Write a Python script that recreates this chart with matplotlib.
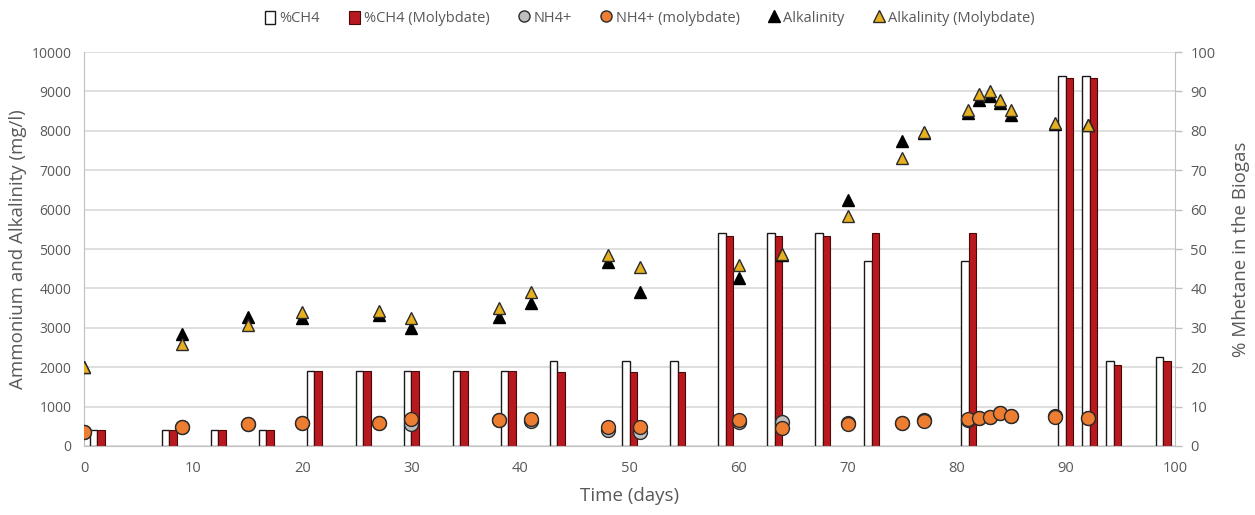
import numpy as np
import matplotlib.pyplot as plt
from matplotlib.lines import Line2D
from matplotlib.patches import Patch

plt.rcParams['font.family'] = ['Open Sans', 'DejaVu Sans']

# methane in the biogas (%), control vs molybdate reactor
ch4_days = [1.2, 7.8, 12.3, 16.7, 21.1, 25.6, 30.0, 34.5, 38.9, 43.4, 50.0,
            54.4, 58.8, 63.3, 67.7, 72.2, 81.1, 90.0, 92.2, 94.4, 98.9]
ch4_control = [4, 4, 4, 4, 19, 19, 19, 19, 19, 21.6, 21.6,
               21.6, 54, 54, 54, 47, 47, 94, 94, 21.6, 22.5]
ch4_molybdate = [4, 4, 4, 4, 19, 19, 19, 19, 19, 18.7, 18.7,
                 18.7, 53.3, 53.3, 53.3, 54, 54, 93.3, 93.3, 20.5, 21.6]

# ammonium and alkalinity (mg/l)
sample_days = [0, 9, 15, 20, 27, 30, 38, 41, 48, 51, 60,
               64, 70, 75, 77, 81, 82, 83, 84, 85, 89, 92]
nh4_control = [350, 470, 555, 585, 585, 560, 650, 640, 410, 360, 620,
               620, 590, 590, 660, 670, 710, 740, 840, 770, 750, 710]
nh4_molybdate = [347, 474, 558, 592, 592, 677, 660, 685, 490, 490, 660,
                 465, 550, 592, 643, 677, 719, 744, 846, 770, 744, 719]
alk_control = [2000, 2850, 3280, 3260, 3330, 2990, 3270, 3640, 4680, 3900, 4260,
               4850, 6240, 7740, 7950, 8440, 8780, 8890, 8700, 8400, 8180, 8150]
alk_molybdate = [2010, 2590, 3080, 3390, 3430, 3250, 3490, 3910, 4860, 4540, 4590,
                 4870, 5840, 7300, 7960, 8520, 8930, 9010, 8780, 8520, 8190, 8160]

grey_txt = '#595959'
grid_col = '#d9d9d9'
red = '#b8191e'
orange = '#ed7d31'
gold = '#e6b020'
edge = '#2b2b2b'

fig = plt.figure(figsize=(12.55, 5.15), dpi=100)
ax = fig.add_axes([0.0669, 0.134, 0.8694, 0.765])
ax2 = ax.twinx()

# bars (percent scale) live on the bottom axes, ticks on the right
bw = 0.69
ax.bar(ch4_days, ch4_control, width=-bw, align='edge', color='white',
       edgecolor='#1a1a1a', linewidth=1.0, zorder=2)
ax.bar(ch4_days, ch4_molybdate, width=bw, align='edge', color=red,
       edgecolor='#4a0808', linewidth=0.8, zorder=2)

ax.set_xlim(0, 100)
ax.set_ylim(0, 100)
ax.set_yticks(np.arange(0, 101, 10))
ax.set_xticks(np.arange(0, 101, 10))
ax.yaxis.tick_right()
ax.yaxis.set_label_position('right')
ax.grid(axis='y', color=grid_col, linewidth=1.2)
ax.set_axisbelow(True)
ax.tick_params(axis='y', colors='#bfbfbf', labelcolor=grey_txt, length=5,
               width=1, labelsize=10.5, pad=6)
ax.tick_params(axis='x', length=0, labelcolor=grey_txt, labelsize=10.5, pad=11)
ax.set_ylabel('% Mhetane in the Biogas', color=grey_txt, fontsize=13.5, labelpad=12)
ax.set_xlabel('Time (days)', color=grey_txt, fontsize=13.5, labelpad=8)
for side in ['left', 'right', 'bottom']:
    ax.spines[side].set_color('#bfbfbf')
ax.spines['top'].set_visible(False)

# markers (mg/l) on the overlay axes, ticks on the left
ax2.yaxis.tick_left()
ax2.yaxis.set_label_position('left')
ax2.set_ylim(0, 10000)
ax2.set_yticks(np.arange(0, 10001, 1000))
ax2.tick_params(axis='y', length=0, labelcolor=grey_txt, labelsize=10, pad=9)
ax2.set_ylabel('Ammonium and Alkalinity (mg/l)', color=grey_txt, fontsize=13.5, labelpad=3)
for s in ax2.spines.values():
    s.set_visible(False)

ms_c = 10
ms_t = 8.8
ax2.plot(sample_days, nh4_control, 'o', ms=ms_c, mfc='#bfbfbf', mec=edge, mew=1.0, zorder=3)
ax2.plot(sample_days, nh4_molybdate, 'o', ms=ms_c, mfc=orange, mec=edge, mew=1.0, zorder=4)
ax2.plot(sample_days, alk_control, '^', ms=ms_t, mfc='black', mec='black', mew=1.0, zorder=5)
ax2.plot(sample_days, alk_molybdate, '^', ms=ms_t, mfc=gold, mec=edge, mew=1.0, zorder=6)

handles = [
    Patch(facecolor='white', edgecolor='#1a1a1a', linewidth=1.0),
    Patch(facecolor=red, edgecolor='#4a0808', linewidth=0.8),
    Line2D([], [], ls='none', marker='o', ms=8, mfc='#bfbfbf', mec=edge),
    Line2D([], [], ls='none', marker='o', ms=8, mfc=orange, mec=edge),
    Line2D([], [], ls='none', marker='^', ms=8, mfc='black', mec='black'),
    Line2D([], [], ls='none', marker='^', ms=8, mfc=gold, mec=edge),
]
labels = ['%CH4', '%CH4 (Molybdate)', 'NH4+', 'NH4+ (molybdate)',
          'Alkalinity', 'Alkalinity (Molybdate)']
leg = fig.legend(handles, labels, loc='upper center', bbox_to_anchor=(0.518, 1.005),
                 ncol=6, frameon=False, fontsize=10.5, handlelength=0.7,
                 handleheight=1.0, handletextpad=0.3, columnspacing=2.0)
for t in leg.get_texts():
    t.set_color(grey_txt)

fig.savefig('out.png', dpi=100)
